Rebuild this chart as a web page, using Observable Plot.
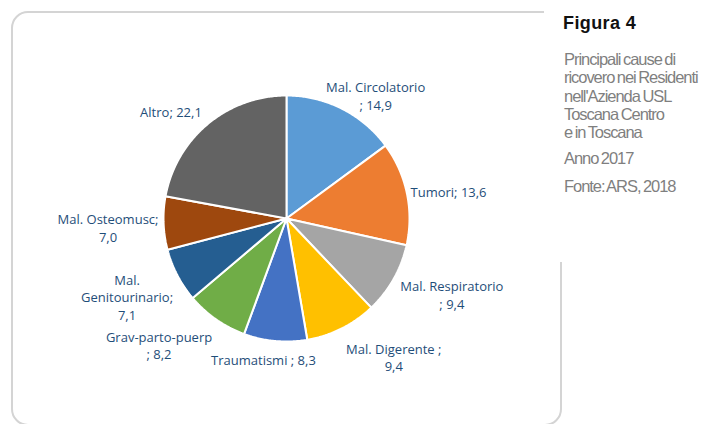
<!DOCTYPE html>
<html>
<head>
<meta charset="utf-8">
<script src="https://cdn.jsdelivr.net/npm/d3@7"></script>
<script src="https://cdn.jsdelivr.net/npm/@observablehq/plot@0.6"></script>
<style>
  html, body { margin: 0; padding: 0; background: #ffffff; }
  #wrap { position: relative; width: 703px; height: 424px; overflow: hidden; }
  #box { position: absolute; left: 11px; top: 11px; width: 551px; height: 415px; box-sizing: border-box;
         border: 2px solid #d4d4d4; border-radius: 17px; }
  #chart { position: absolute; left: 0; top: 0; }
  #panel { position: absolute; left: 544px; top: 0; width: 159px; height: 262px; background: #ffffff; }
  #panel svg { display: block; }
  .ptxt { font-family: "Liberation Sans", Arial, sans-serif; font-size: 16.5px; fill: #7f7f7f;
          letter-spacing: -1.05px; word-spacing: -1px; }
  .ftitle { font-family: "Liberation Sans", Arial, sans-serif; font-size: 18px; font-weight: bold; fill: #111111;
            letter-spacing: 0.4px; }
</style>
</head>
<body>
<div id="wrap">
  <div id="box"></div>
  <div id="chart"></div>
  <div id="panel"></div>
</div>
<script>
// ---- data ----
const categories = ["Mal. Circolatorio", "Tumori", "Mal. Respiratorio", "Mal. Digerente", "Traumatismi",
                    "Grav-parto-puerp", "Mal. Genitourinario", "Mal. Osteomusc", "Altro"];
const values = [14.9, 13.6, 9.4, 9.4, 8.3, 8.2, 7.1, 7.0, 22.1];
const labelTexts = ["Mal. Circolatorio\n; 14,9", "Tumori; 13,6", "Mal. Respiratorio\n; 9,4", "Mal. Digerente ;\n9,4",
                    "Traumatismi ; 8,3", "Grav-parto-puerp\n; 8,2", "Mal.\nGenitourinario;\n7,1",
                    "Mal. Osteomusc;\n7,0", "Altro; 22,1"];
const figureTitle = "Figura 4";
const subtitleLines = ["Principali cause di", "ricovero nei Residenti", "nell'Azienda USL", "Toscana Centro", "e in Toscana"];
const yearText = "Anno 2017";
const sourceText = "Fonte: ARS, 2018";

// ---- styles / layout ----
const colors = ["#5B9BD5", "#ED7D31", "#A5A5A5", "#FFC000", "#4472C4", "#70AD47", "#255E91", "#9E480E", "#636363"];
const R = 123;            // pie radius in px
const labelGap = 8;       // gap from rim
const labelNudge = [[7, 10], [-1.4, 1.9], [7, 2.5], [27, 5], [-6.5, 1], [-25, 4], [-3.4, 5], [-2.6, 3.3], [-10.6, 0]];

// ---- geometry from values ----
const arcs = d3.pie().sort(null).value(d => d)(values);
const wedgeRows = [];
arcs.forEach((a, i) => {
  const cat = categories[i];
  wedgeRows.push({cat, x: 0, y: 0});
  const n = Math.max(2, Math.ceil((a.endAngle - a.startAngle) / 0.01));
  for (let k = 0; k <= n; k++) {
    const t = a.startAngle + (a.endAngle - a.startAngle) * k / n;
    wedgeRows.push({cat, x: R * Math.sin(t), y: -R * Math.cos(t)});
  }
});

const labelRows = arcs.map((a, i) => {
  const mid = (a.startAngle + a.endAngle) / 2;
  const ux = Math.sin(mid), uy = -Math.cos(mid);
  const lines = labelTexts[i].split("\n");
  const w = d3.max(lines, l => l.length) * 6;
  const h = lines.length * 18;
  return {
    text: labelTexts[i],
    x: (R + labelGap) * ux + (w / 2) * ux + labelNudge[i][0],
    y: (R + labelGap) * uy + (h / 2) * uy + labelNudge[i][1]
  };
});

const chart = Plot.plot({
  width: 703,
  height: 424,
  margin: 0,
  style: {background: "transparent", overflow: "visible"},
  x: {domain: [-286, 417], range: [0, 703], axis: null},
  y: {domain: [-218, 206], range: [0, 424], axis: null},
  color: {domain: categories, range: colors},
  marks: [
    Plot.line(wedgeRows, {x: "x", y: "y", z: "cat", fill: "cat", stroke: "#ffffff", strokeWidth: 2,
                          strokeLinejoin: "miter", curve: "linear-closed"}),
    Plot.text(labelRows, {x: "x", y: "y", text: "text", textAnchor: "middle", lineAnchor: "middle",
                          lineHeight: 1.35, fontSize: 13, fontFamily: "'Open Sans', sans-serif", fill: "#1F4E79"})
  ]
});
document.getElementById("chart").appendChild(chart);

// ---- side panel ----
const panel = d3.select("#panel").append("svg").attr("width", 159).attr("height", 262);
panel.append("text").attr("class", "ftitle").attr("x", 19).attr("y", 29).text(figureTitle);
subtitleLines.forEach((l, i) => {
  panel.append("text").attr("class", "ptxt").attr("x", 20).attr("y", 65 + i * 18.3).text(l);
});
panel.append("text").attr("class", "ptxt").attr("x", 20).attr("y", 164).text(yearText);
panel.append("text").attr("class", "ptxt").attr("x", 20).attr("y", 192).text(sourceText);
</script>
</body>
</html>
